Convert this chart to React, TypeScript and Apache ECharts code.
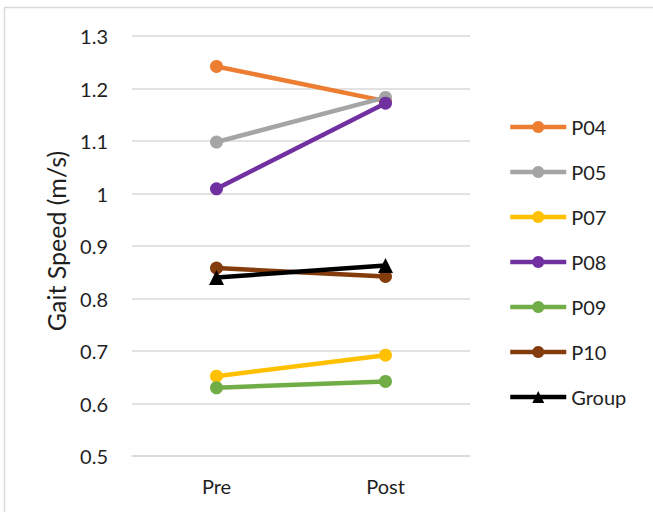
import React, { useEffect, useRef } from "react";
import * as echarts from "echarts";

const categories = ["Pre", "Post"];
const seriesNames = ["P04", "P05", "P07", "P08", "P09", "P10", "Group"];
const p04 = [1.242, 1.176];
const p05 = [1.098, 1.183];
const p07 = [0.652, 0.692];
const p08 = [1.009, 1.172];
const p09 = [0.630, 0.642];
const p10 = [0.858, 0.842];
const group = [0.840, 0.863];
const seriesValues = [p04, p05, p07, p08, p09, p10, group];
const colors = ["#ED7D31", "#A5A5A5", "#FFC000", "#7030A0", "#70AD47", "#843C0C", "#000000"];
const yMin = 0.5;
const yMax = 1.3;
const yStep = 0.1;
const yTitle = "Gait Speed (m/s)";

const FONT = "Lato, 'Open Sans', sans-serif";
const TEXT = "#1f1f1f";

export default function App() {
  const ref = useRef<HTMLDivElement>(null);
  useEffect(() => {
    if (!ref.current) return;
    const chart = echarts.init(ref.current, undefined, { renderer: "svg" });
    chart.setOption({
      animation: false,
      backgroundColor: "#ffffff",
      textStyle: { fontFamily: FONT },
      graphic: [
        {
          type: "rect",
          shape: { x: 4.5, y: 7.5, width: 700, height: 600 },
          style: { fill: "none", stroke: "#d9d9d9", lineWidth: 1.5 },
          silent: true,
        },
        {
          type: "text",
          x: 56,
          y: 241,
          rotation: Math.PI / 2,
          silent: true,
          style: {
            text: yTitle,
            fill: TEXT,
            font: `25px ${FONT}`,
            align: "center",
            verticalAlign: "middle",
          },
        },
      ],
      grid: { left: 132, right: 183, top: 36, bottom: 56 },
      legend: {
        orient: "vertical",
        left: 503,
        top: 112,
        itemWidth: 56,
        itemHeight: 15,
        itemGap: 25,
        lineStyle: { width: 4.5 },
        textStyle: { fontFamily: FONT, fontSize: 20, color: TEXT },
        data: seriesNames,
      },
      xAxis: {
        type: "category",
        data: categories,
        boundaryGap: true,
        axisLine: { lineStyle: { color: "#d9d9d9", width: 1.5 } },
        axisTick: { show: false },
        axisLabel: { fontFamily: FONT, fontSize: 20, color: TEXT, margin: 20 },
      },
      yAxis: {
        type: "value",
        min: yMin,
        max: yMax,
        interval: yStep,
        axisLine: { show: false },
        axisTick: { show: false },
        axisLabel: {
          fontFamily: FONT,
          fontSize: 20,
          color: TEXT,
          margin: 24,
          formatter: (v: number) => String(Math.round(v * 10) / 10),
        },
        splitLine: { lineStyle: { color: "#d9d9d9", width: 1.5 } },
      },
      series: seriesNames.map((name, i) => ({
        name,
        type: "line",
        data: seriesValues[i],
        symbol: name === "Group" ? "triangle" : "circle",
        symbolSize: name === "Group" ? 15 : 13,
        showSymbol: true,
        lineStyle: { color: colors[i], width: 4.5 },
        itemStyle: { color: colors[i], borderWidth: 0 },
        emphasis: { disabled: true },
      })),
    });
    return () => chart.dispose();
  }, []);
  return (
    <div
      ref={ref}
      style={{ position: "fixed", left: 0, top: 0, width: 653, height: 512 }}
    />
  );
}
